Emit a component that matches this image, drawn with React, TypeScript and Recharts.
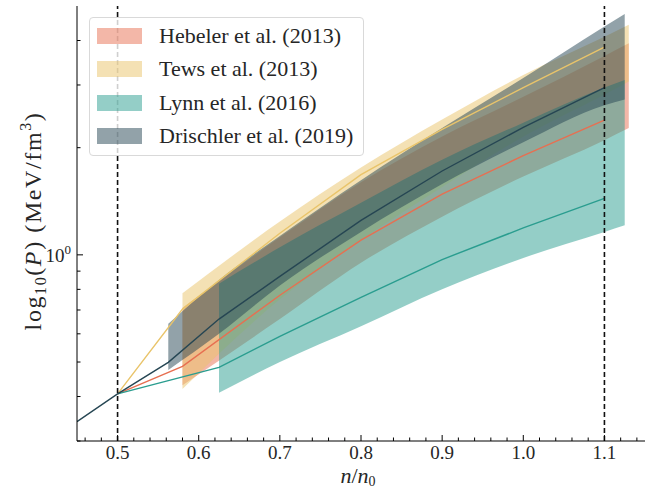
import React from 'react';
import { ComposedChart, Area, Line, XAxis, YAxis, ReferenceLine } from 'recharts';

// pressure bands (MeV/fm^3) vs n/n0
const hebelerBandX = [0.58, 0.7, 0.8, 0.9, 1.0, 1.1, 1.13];
const hebelerLow = [0.43, 0.66, 0.95, 1.28, 1.66, 2.1, 2.27];
const hebelerHigh = [0.71, 1.12, 1.6, 2.15, 2.78, 3.62, 3.93];
const hebelerLineX = [0.5, 0.58, 0.7, 0.8, 0.9, 1.0, 1.1];
const hebelerMid = [0.407, 0.486, 0.77, 1.1, 1.48, 1.9, 2.39];

const tewsBandX = [0.58, 0.7, 0.8, 0.9, 1.0, 1.1, 1.13];
const tewsLow = [0.42, 0.75, 1.1, 1.55, 2.15, 2.82, 3.07];
const tewsHigh = [0.78, 1.24, 1.76, 2.4, 3.2, 4.1, 4.43];
const tewsLineX = [0.5, 0.58, 0.7, 0.8, 0.9, 1.0, 1.1];
const tewsMid = [0.407, 0.704, 1.15, 1.68, 2.25, 2.95, 3.83];

const lynnBandX = [0.625, 0.7, 0.8, 0.9, 1.0, 1.1, 1.125];
const lynnLow = [0.41, 0.5, 0.63, 0.8, 0.98, 1.16, 1.21];
const lynnHigh = [0.83, 1.05, 1.4, 1.85, 2.35, 2.95, 3.1];
const lynnLineX = [0.5, 0.625, 0.7, 0.8, 0.9, 1.0, 1.1];
const lynnMid = [0.407, 0.483, 0.59, 0.76, 0.97, 1.19, 1.44];

const drischlerBandX = [0.5625, 0.625, 0.7, 0.8, 0.9, 1.0, 1.1, 1.125];
const drischlerLow = [0.475, 0.6, 0.82, 1.16, 1.58, 2.07, 2.63, 2.73];
const drischlerHigh = [0.64, 0.85, 1.13, 1.62, 2.27, 3.14, 4.38, 4.75];
const drischlerLineX = [0.45, 0.5, 0.5625, 0.625, 0.7, 0.8, 0.9, 1.0, 1.1];
const drischlerMid = [0.34, 0.407, 0.499, 0.66, 0.87, 1.25, 1.72, 2.28, 2.95];

const seriesNames = ['Hebeler et al. (2013)', 'Tews et al. (2013)', 'Lynn et al. (2016)', 'Drischler et al. (2019)'];
const seriesColors = ['#e76f51', '#e9c46a', '#2a9d8f', '#264653'];

const majorX = [0.5, 0.6, 0.7, 0.8, 0.9, 1.0, 1.1];
const majorXLabels = ['0.5', '0.6', '0.7', '0.8', '0.9', '1.0', '1.1'];
const minorX = [0.46, 0.48, 0.52, 0.54, 0.56, 0.58, 0.62, 0.64, 0.66, 0.68, 0.72, 0.74, 0.76, 0.78,
  0.82, 0.84, 0.86, 0.88, 0.92, 0.94, 0.96, 0.98, 1.02, 1.04, 1.06, 1.08, 1.12, 1.14];
const majorY = [1];
const minorY = [0.3, 0.4, 0.5, 0.6, 0.7, 0.8, 0.9, 2, 3, 4];
const dashedX = [0.5, 1.1];

const FONT = '"Liberation Serif", "DejaVu Serif", serif';
const INK = '#262626';

type Row = { x: number; [key: string]: any };
const table = new Map<number, Row>();
function put(xs: number[], key: string, vals: any[]) {
  xs.forEach((x, i) => {
    const row = table.get(x) ?? { x };
    row[key] = vals[i];
    table.set(x, row);
  });
}
put(hebelerBandX, 'hebBand', hebelerBandX.map((_, i) => [hebelerLow[i], hebelerHigh[i]]));
put(tewsBandX, 'tewsBand', tewsBandX.map((_, i) => [tewsLow[i], tewsHigh[i]]));
put(lynnBandX, 'lynnBand', lynnBandX.map((_, i) => [lynnLow[i], lynnHigh[i]]));
put(drischlerBandX, 'drBand', drischlerBandX.map((_, i) => [drischlerLow[i], drischlerHigh[i]]));
put(hebelerLineX, 'heb', hebelerMid);
put(tewsLineX, 'tews', tewsMid);
put(lynnLineX, 'lynn', lynnMid);
put(drischlerLineX, 'dr', drischlerMid);
const data = Array.from(table.values()).sort((a, b) => a.x - b.x);

const xTicks = [...majorX, ...minorX].sort((a, b) => a - b);
const yTicks = [...minorY, ...majorY].sort((a, b) => a - b);
const isIn = (arr: number[], v: number) => arr.some((m) => Math.abs(m - v) < 1e-6);

const BottomTick = (props: any) => {
  const { x, y, payload } = props;
  const major = isIn(majorX, payload.value);
  const idx = majorX.findIndex((m) => Math.abs(m - payload.value) < 1e-6);
  return (
    <g>
      <line x1={x} x2={x} y1={y} y2={y - (major ? 6 : 3.5)} stroke="#000" strokeWidth={1} />
      {major && (
        <text x={x} y={y + 18} textAnchor="middle" fontSize={19} fontFamily={FONT} fill={INK}>
          {majorXLabels[idx]}
        </text>
      )}
    </g>
  );
};

const TopTick = (props: any) => {
  const { x, y, payload } = props;
  const major = isIn(majorX, payload.value);
  return <line x1={x} x2={x} y1={y} y2={y + (major ? 6 : 3.5)} stroke="#000" strokeWidth={1} />;
};

const LeftTick = (props: any) => {
  const { x, y, payload } = props;
  const major = isIn(majorY, payload.value);
  return (
    <g>
      <line x1={x} x2={x + (major ? 6 : 3.5)} y1={y} y2={y} stroke="#000" strokeWidth={1} />
      {major && (
        <text x={x - 6} y={y + 7} textAnchor="end" fontSize={19} fontFamily={FONT} fill={INK}>
          10<tspan dy={-8} fontSize={13}>0</tspan>
        </text>
      )}
    </g>
  );
};

const RightTick = (props: any) => {
  const { x, y, payload } = props;
  const major = isIn(majorY, payload.value);
  return <line x1={x} x2={x - (major ? 6 : 3.5)} y1={y} y2={y} stroke="#000" strokeWidth={1} />;
};

const LegendBox = () => (
  <div
    style={{
      position: 'absolute',
      left: 89,
      top: 17,
      width: 275,
      height: 139,
      boxSizing: 'border-box',
      border: '1px solid #d9d9d9',
      borderRadius: 4,
      background: 'rgba(255,255,255,0.8)',
      fontFamily: FONT,
      fontSize: 22,
      color: INK,
    }}
  >
    {seriesNames.map((name, i) => (
      <div key={name} style={{ position: 'absolute', left: 7, top: 10 + i * 33.3, height: 16, display: 'flex', alignItems: 'center' }}>
        <div style={{ width: 45, height: 16, background: seriesColors[i], opacity: 0.5 }} />
        <span style={{ marginLeft: 17, whiteSpace: 'nowrap', lineHeight: '16px' }}>{name}</span>
      </div>
    ))}
  </div>
);

export default function App() {
  return (
    <div style={{ position: 'absolute', left: 0, top: 0, width: 647, height: 489, background: '#fff' }}>
      <ComposedChart width={647} height={489} data={data} margin={{ top: 6, right: 2, bottom: 0, left: 0 }}>
        <XAxis
          dataKey="x"
          type="number"
          domain={[0.45, 1.15]}
          allowDataOverflow
          ticks={xTicks}
          interval={0}
          height={48}
          tickSize={0}
          tickMargin={0}
          tickLine={false}
          tick={<BottomTick />}
          axisLine={{ stroke: '#000' }}
        />
        <XAxis
          xAxisId="top"
          orientation="top"
          dataKey="x"
          type="number"
          domain={[0.45, 1.15]}
          allowDataOverflow
          ticks={xTicks}
          interval={0}
          height={0}
          tickSize={0}
          tickMargin={0}
          tickLine={false}
          tick={<TopTick />}
          axisLine={{ stroke: '#000' }}
        />
        <YAxis
          type="number"
          scale="log"
          domain={[0.3, 5]}
          allowDataOverflow
          ticks={yTicks}
          interval={0}
          width={77}
          tickSize={0}
          tickMargin={0}
          tickLine={false}
          tick={<LeftTick />}
          axisLine={{ stroke: '#000' }}
        />
        <YAxis
          yAxisId="right"
          orientation="right"
          type="number"
          scale="log"
          domain={[0.3, 5]}
          allowDataOverflow
          ticks={yTicks}
          interval={0}
          width={0}
          tickSize={0}
          tickMargin={0}
          tickLine={false}
          tick={<RightTick />}
          axisLine={{ stroke: '#000' }}
        />
        <Area dataKey="hebBand" type="monotone" stroke="none" fill={seriesColors[0]} fillOpacity={0.5} connectNulls isAnimationActive={false} />
        <Area dataKey="tewsBand" type="monotone" stroke="none" fill={seriesColors[1]} fillOpacity={0.5} connectNulls isAnimationActive={false} />
        <Area dataKey="lynnBand" type="monotone" stroke="none" fill={seriesColors[2]} fillOpacity={0.5} connectNulls isAnimationActive={false} />
        <Area dataKey="drBand" type="monotone" stroke="none" fill={seriesColors[3]} fillOpacity={0.5} connectNulls isAnimationActive={false} />
        <Line dataKey="heb" type="linear" stroke={seriesColors[0]} strokeWidth={1.4} dot={false} connectNulls isAnimationActive={false} />
        <Line dataKey="tews" type="linear" stroke={seriesColors[1]} strokeWidth={1.4} dot={false} connectNulls isAnimationActive={false} />
        <Line dataKey="lynn" type="linear" stroke={seriesColors[2]} strokeWidth={1.4} dot={false} connectNulls isAnimationActive={false} />
        <Line dataKey="dr" type="linear" stroke={seriesColors[3]} strokeWidth={1.4} dot={false} connectNulls isAnimationActive={false} />
        {dashedX.map((v) => (
          <ReferenceLine key={v} x={v} stroke="#111" strokeWidth={1.6} strokeDasharray="5 3" />
        ))}
      </ComposedChart>
      <svg width={647} height={489} style={{ position: 'absolute', left: 0, top: 0, pointerEvents: 'none' }}>
        <text transform="rotate(-90)" x={-221} y={41} textAnchor="middle" fontSize={24} fontFamily={FONT} fill={INK} letterSpacing={1.6}>
          log<tspan dy={5} fontSize={16}>10</tspan>
          <tspan dy={-5}>(</tspan>
          <tspan fontStyle="italic">P</tspan>)  (MeV/fm<tspan dy={-10} fontSize={16}>3</tspan>
          <tspan dy={10}>)</tspan>
        </text>
        <text x={358} y={483} textAnchor="middle" fontSize={22} fontFamily={FONT} fill={INK}>
          <tspan fontStyle="italic">n</tspan>/<tspan fontStyle="italic">n</tspan>
          <tspan dy={3} fontSize={14}>0</tspan>
        </text>
      </svg>
      <LegendBox />
    </div>
  );
}
